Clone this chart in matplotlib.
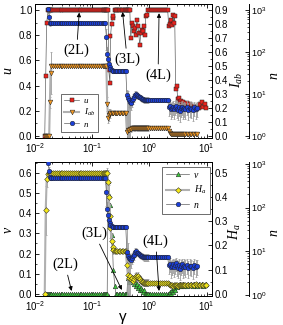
import numpy as np
import matplotlib
matplotlib.use('Agg')
import matplotlib.pyplot as plt
from matplotlib.ticker import MultipleLocator, LogLocator, NullFormatter, FormatStrFormatter

plt.rcParams['font.family'] = ['Liberation Sans', 'DejaVu Sans']
plt.rcParams['mathtext.fontset'] = 'custom'
plt.rcParams['mathtext.rm'] = 'Liberation Sans'
plt.rcParams['mathtext.it'] = 'Liberation Serif:italic'
plt.rcParams['mathtext.default'] = 'regular'
plt.rcParams['font.size'] = 7
plt.rcParams['axes.linewidth'] = 0.7

nan = np.nan

# gamma sweep shared by all series
gamma = [0.0148, 0.0154, 0.0160, 0.0170, 0.0177, 0.0182, 0.0187, 0.0193,
         0.0205, 0.022, 0.024, 0.026, 0.028, 0.030, 0.0325, 0.035, 0.038, 0.041,
         0.044, 0.048, 0.052, 0.056, 0.060, 0.065, 0.070, 0.076, 0.082, 0.089,
         0.096, 0.104, 0.112, 0.121, 0.131, 0.142, 0.153, 0.162, 0.170,
         0.177, 0.183, 0.190, 0.195, 0.204, 0.209, 0.218, 0.227, 0.234, 0.249, 0.259,
         0.275, 0.292, 0.310, 0.330, 0.351, 0.372, 0.387,
         0.404, 0.420, 0.437, 0.455,
         0.473, 0.493, 0.513, 0.535, 0.556, 0.579, 0.603, 0.628, 0.653, 0.679,
         0.708, 0.736, 0.767, 0.798, 0.832, 0.865, 0.901, 0.938,
         1.016, 1.10, 1.19, 1.29, 1.40, 1.52, 1.64, 1.78, 1.93, 2.09,
         2.18, 2.27, 2.37, 2.46, 2.56, 2.67, 2.77, 2.89, 3.01, 3.13, 3.26, 3.40,
         3.53, 3.68, 3.83, 3.98,
         4.24, 4.50, 4.78, 5.07, 5.39, 5.72, 6.08, 6.45, 6.85, 7.28, 7.73, 8.21,
         8.72, 9.26, 9.84]

# top panel
u = ([0.0, 0.476, 0.90, 1.0, 1.0, 1.0, 1.0, 1.0] + [1.0] * 29 +
     [1.0, 1.0, 1.0, 0.52, 0.42, 0.79, 0.89, 0.94, 0.95, 1.0, 1.0] + [1.0] * 7 + [1.0] * 4 +
     [0.775, 0.90, 0.87, 0.83, 0.855, 0.80, 0.92, 0.87, 0.815, 0.72, 0.815, 0.84,
      0.83, 0.87, 0.80, 0.95, 0.96, 1.0] + [1.0] * 10 +
     [0.87, 0.89, 0.92, 0.88, 0.96, 0.90, 0.95, 0.37, 0.40, 0.29, 0.30, 0.27, 0.28,
      0.25, 0.27, 0.24] +
     [0.245, 0.26, 0.23, 0.25, 0.22, 0.24, 0.23, 0.21, 0.23, 0.22, 0.25, 0.27, 0.23,
      0.25, 0.22])

I_ab = ([0.0, 0.0, 0.0, 0.0, 0.0, 0.24, 0.45, 0.5] + [0.5] * 29 +
        [0.5, 0.23, 0.13, 0.15, 0.16, 0.167, 0.167, 0.167, 0.167, 0.167, 0.167] +
        [0.167] * 7 + [0.03, 0.04, 0.045, 0.05] +
        [0.05, 0.055, 0.06, 0.055, 0.055, 0.06] + [0.055] * 12 + [0.055] * 10 +
        [0.035, 0.02, 0.015] + [0.012] * 13 + [0.012] * 9 + [nan] * 6)
I_err = ([0, 0, 0, 0, 0, 0.04, 0.15, 0.02] + [0.01] * 29 +
         [0.02, 0.05, 0.04, 0.04, 0.03, 0.02, 0.01, 0.01, 0.01, 0.01, 0.01] + [0.01] * 7 +
         [0.30, 0.28, 0.25, 0.20] + [0.02] * 18 + [0.01] * 10 + [0.008] * 16 + [0.005] * 15)

# n is the same in both panels
n = ([nan, nan, nan, 1050, 700, 500, 480, 480] + [480] * 29 +
     [230, 92, 68, 52, 44, 40, 37, 36, 36, 36, 36] + [36] * 7 +
     [9.6, 8.0, 7.0, 6.6] +
     [6.2, 7.0, 7.8, 8.4, 9.6, 10.0, 9.3, 9.0, 8.6, 8.3, 8.0, 7.8, 7.5, 7.3, 7.3, 7.3,
      7.3, 7.3] + [7.3] * 10 +
     [4.8, 5.2, 4.3, 4.6, 5.0, 4.4, 4.9, 5.3, 4.5, 4.2, 4.8, 4.0, 4.6, 5.0, 4.3, 4.7] +
     [4.4, 4.9, 4.2, 4.7, 4.5, 4.1, 4.8, 4.4, 4.6] + [nan] * 6)
n_err = ([0, 0, 0, 0, 150, 80, 20, 10] + [10] * 29 +
         [120, 40, 20, 12, 8, 6, 4, 3, 3, 3, 3] + [3] * 7 +
         [2.2, 2.0, 2.0, 2.0] + [2.0] * 6 + [1.2] * 12 + [0.8] * 10 + [1.8] * 16 + [1.8] * 15)

# bottom panel
nu = ([0.0] * 8 + [0.0] * 29 +
      [0.0, 0.0, 0.56, 0.49, 0.44, 0.345, 0.29, 0.23, 0.12, 0.04, 0.0] + [0.0] * 7 +
      [0.0, 0.08, 0.06, 0.07] +
      [0.06, 0.08, 0.07, 0.05, 0.06, 0.04, 0.05, 0.03, 0.04, 0.02, 0.03, 0.02, 0.01,
       0.02, 0.0, 0.0, 0.0, 0.0] + [0.0] * 10 +
      [0.0, 0.01, 0.0, 0.02, 0.01, 0.03, 0.02, 0.04, 0.035, 0.045, 0.04, 0.05, 0.04,
       0.045, 0.05, 0.04] +
      [0.045, 0.04, 0.05, 0.045, 0.05, 0.04, 0.05, 0.045, 0.04, 0.05, 0.045, 0.05,
       0.04, 0.045, 0.05])

H_a = ([0.0, 0.345, 0.473, 0.494, 0.5, 0.5, 0.5, 0.5] + [0.5] * 29 +
       [0.5, 0.5, 0.46, 0.40, 0.32, 0.27, 0.22, 0.195, 0.18, 0.177, 0.177] + [0.177] * 7 +
       [0.12, 0.08, 0.065, 0.074] +
       [0.06, 0.065, 0.055, 0.06, 0.07, 0.075, 0.07, 0.074, 0.065, 0.06, 0.055, 0.05,
        0.048, 0.047, 0.047, 0.047, 0.047, 0.047] + [0.047] * 10 +
       [0.04, 0.036, 0.035, 0.037, 0.034, 0.036, 0.035, 0.037, 0.036, 0.034, 0.037,
        0.035, 0.036, 0.038, 0.035, 0.036] +
       [0.037, 0.035, 0.038, 0.036, 0.039, 0.035, 0.037, 0.04, 0.036, 0.038, 0.035,
        0.039, 0.037, 0.036, 0.038])
H_err = ([0, 0.1, 0.03, 0.01, 0.005, 0.005, 0.005, 0.005] + [0.008] * 29 +
         [0.01, 0.02, 0.05, 0.05, 0.05, 0.04, 0.03, 0.02, 0.015, 0.01, 0.01] + [0.008] * 7 +
         [0.15, 0.13, 0.10, 0.08] + [0.015] * 18 + [0.008] * 10 + [0.008] * 16 + [0.008] * 15)

RED, ORANGE, BLUE = '#e8231d', '#f59a23', '#1b3fd8'
GREEN, YELLOW = '#3cc83c', '#f4e81a'
EDGE = '#222222'
serif_it = dict(family='Liberation Serif', style='italic')


def draw(ax, y, marker, face, err=None, thick=False, ms=3.3):
    if err is not None:
        ax.errorbar(gamma, y, yerr=err, fmt='none', ecolor='#9a9a9a',
                    elinewidth=0.6, capsize=1.0, capthick=0.5, zorder=1)
    lc = '#b0b0b0' if thick else '#606060'
    lw = 1.5 if thick else 0.5
    h, = ax.plot(gamma, y, ls='-', color=lc, lw=lw, marker=marker, mfc=face,
                 mec=EDGE, mew=0.35, ms=ms, zorder=2)
    return h


def style(ax, ax2, ax3, lim, lim2, lim3, step, step2):
    ax.set_xscale('log')
    ax.set_xlim(0.01, 12.2)
    ax.set_ylim(*lim)
    ax2.set_ylim(*lim2)
    ax3.set_yscale('log')
    ax3.set_ylim(*lim3)
    ax.yaxis.set_major_locator(MultipleLocator(step))
    ax.yaxis.set_minor_locator(MultipleLocator(step / 2))
    ax.yaxis.set_major_formatter(FormatStrFormatter('%.1f'))
    ax2.yaxis.set_major_locator(MultipleLocator(step2))
    ax2.yaxis.set_minor_locator(MultipleLocator(step2 / 2))
    ax2.yaxis.set_major_formatter(FormatStrFormatter('%.1f'))
    ax.xaxis.set_major_locator(LogLocator(base=10, numticks=10))
    ax.xaxis.set_minor_locator(LogLocator(base=10, subs=np.arange(2, 10), numticks=20))
    ax.xaxis.set_minor_formatter(NullFormatter())
    ax3.yaxis.set_major_locator(LogLocator(base=10, numticks=10))
    ax3.yaxis.set_minor_locator(LogLocator(base=10, subs=np.arange(2, 10), numticks=20))
    ax3.yaxis.set_minor_formatter(NullFormatter())
    ax3.spines['right'].set_position(('axes', 1.214))
    for s in ('top', 'bottom', 'left'):
        ax3.spines[s].set_visible(False)
    ax.tick_params(which='both', direction='in', top=True, right=False, labelsize=7, pad=2)
    for a in (ax2, ax3):
        a.tick_params(axis='y', which='both', direction='in', labelsize=7, pad=2)
    ax3.tick_params(axis='y', labelsize=6.5, pad=1.5)
    for a in (ax, ax2, ax3):
        a.tick_params(which='major', length=3, width=0.6)
        a.tick_params(which='minor', length=1.6, width=0.5)


def label(x, y, s, rot=90, size=10, **kw):
    # x, y in pixels from the top-left corner of the 283x325 figure
    fig.text(x / 283, 1 - y / 325, s, rotation=rot, ha='center', va='center',
             fontsize=size, **kw)


fig = plt.figure(figsize=(2.83, 3.25), dpi=100)
W = 176.5 / 283
L = 35 / 283

# ---- top panel ----
ax1 = fig.add_axes([L, 1 - 138.5 / 325, W, 134.5 / 325])
ax1b = ax1.twinx()
ax1c = ax1.twinx()
style(ax1, ax1b, ax1c, (-0.02, 1.048), (-0.018, 0.943), (0.871, 1390), 0.2, 0.1)

hI = draw(ax1b, I_ab, 'v', ORANGE, err=I_err, thick=True, ms=3.4)
hu = draw(ax1, u, 's', RED, ms=3.0)
hn = draw(ax1c, n, 'o', BLUE, err=n_err, ms=3.3)

label(8, 71, 'u', **serif_it)
label(237, 80, r'$\mathit{I}_{\mathit{ab}}$')
label(274, 75, 'n', **serif_it)

leg = ax1c.legend([hu, hI, hn], ['u', r'$\mathit{I}_{\mathit{ab}}$', 'n'],
                  loc='lower left', bbox_to_anchor=(0.146, 0.05),
                  bbox_transform=ax1.transAxes, prop=dict(size=6.5, **serif_it),
                  fancybox=False, edgecolor='#555555', framealpha=1,
                  handlelength=1.7, handletextpad=0.5, labelspacing=0.2,
                  borderpad=0.35, borderaxespad=0)
leg.get_frame().set_linewidth(0.6)

arrow = dict(arrowstyle='-|>', lw=0.6, color='k', mutation_scale=6, shrinkA=1, shrinkB=0)
for txt, xy, xyt in [('(2L)', (0.0593, 0.98), (0.0534, 0.68)),
                     ('(3L)', (0.34, 0.985), (0.408, 0.61)),
                     ('(4L)', (1.476, 0.975), (1.42, 0.485))]:
    ax1c.annotate(txt, xy=xy, xycoords=ax1.transData, xytext=xyt,
                  textcoords=ax1.transData, ha='center', va='center',
                  fontsize=10.5, family='Liberation Serif', arrowprops=arrow)

# ---- bottom panel ----
ax2 = fig.add_axes([L, 1 - 296 / 325, W, 134 / 325])
ax2b = ax2.twinx()
ax2c = ax2.twinx()
style(ax2, ax2b, ax2c, (-0.01, 0.653), (-0.0083, 0.544), (0.95, 1100), 0.1, 0.1)

hH = draw(ax2b, H_a, 'D', YELLOW, err=H_err, thick=True, ms=2.9)
hv = draw(ax2, nu, '^', GREEN, ms=3.3)
hn2 = draw(ax2c, n, 'o', BLUE, err=n_err, ms=3.3)

label(8, 230, 'ν', **serif_it)
label(235, 232, r'$\mathit{H}_{\mathit{a}}$')
label(274, 232, 'n', **serif_it)
label(123, 317, 'γ', rot=0, size=11)

leg2 = ax2c.legend([hv, hH, hn2], ['ν', r'$\mathit{H}_{\mathit{a}}$', 'n'],
                   loc='upper right', bbox_to_anchor=(0.99, 0.965),
                   bbox_transform=ax2.transAxes, prop=dict(size=7, **serif_it),
                   fancybox=False, edgecolor='#555555', framealpha=1,
                   handlelength=2.3, handletextpad=0.5, labelspacing=0.45,
                   borderpad=0.4, borderaxespad=0)
leg2.get_frame().set_linewidth(0.6)

for txt, xy, xyt in [('(2L)', (0.0436, 0.015), (0.0334, 0.147)),
                     ('(3L)', (0.330, 0.02), (0.109, 0.30)),
                     ('(4L)', (1.476, 0.015), (1.29, 0.262))]:
    ax2c.annotate(txt, xy=xy, xycoords=ax2.transData, xytext=xyt,
                  textcoords=ax2.transData, ha='center', va='center',
                  fontsize=10.5, family='Liberation Serif', arrowprops=arrow)

fig.savefig('out.png', dpi=100)
